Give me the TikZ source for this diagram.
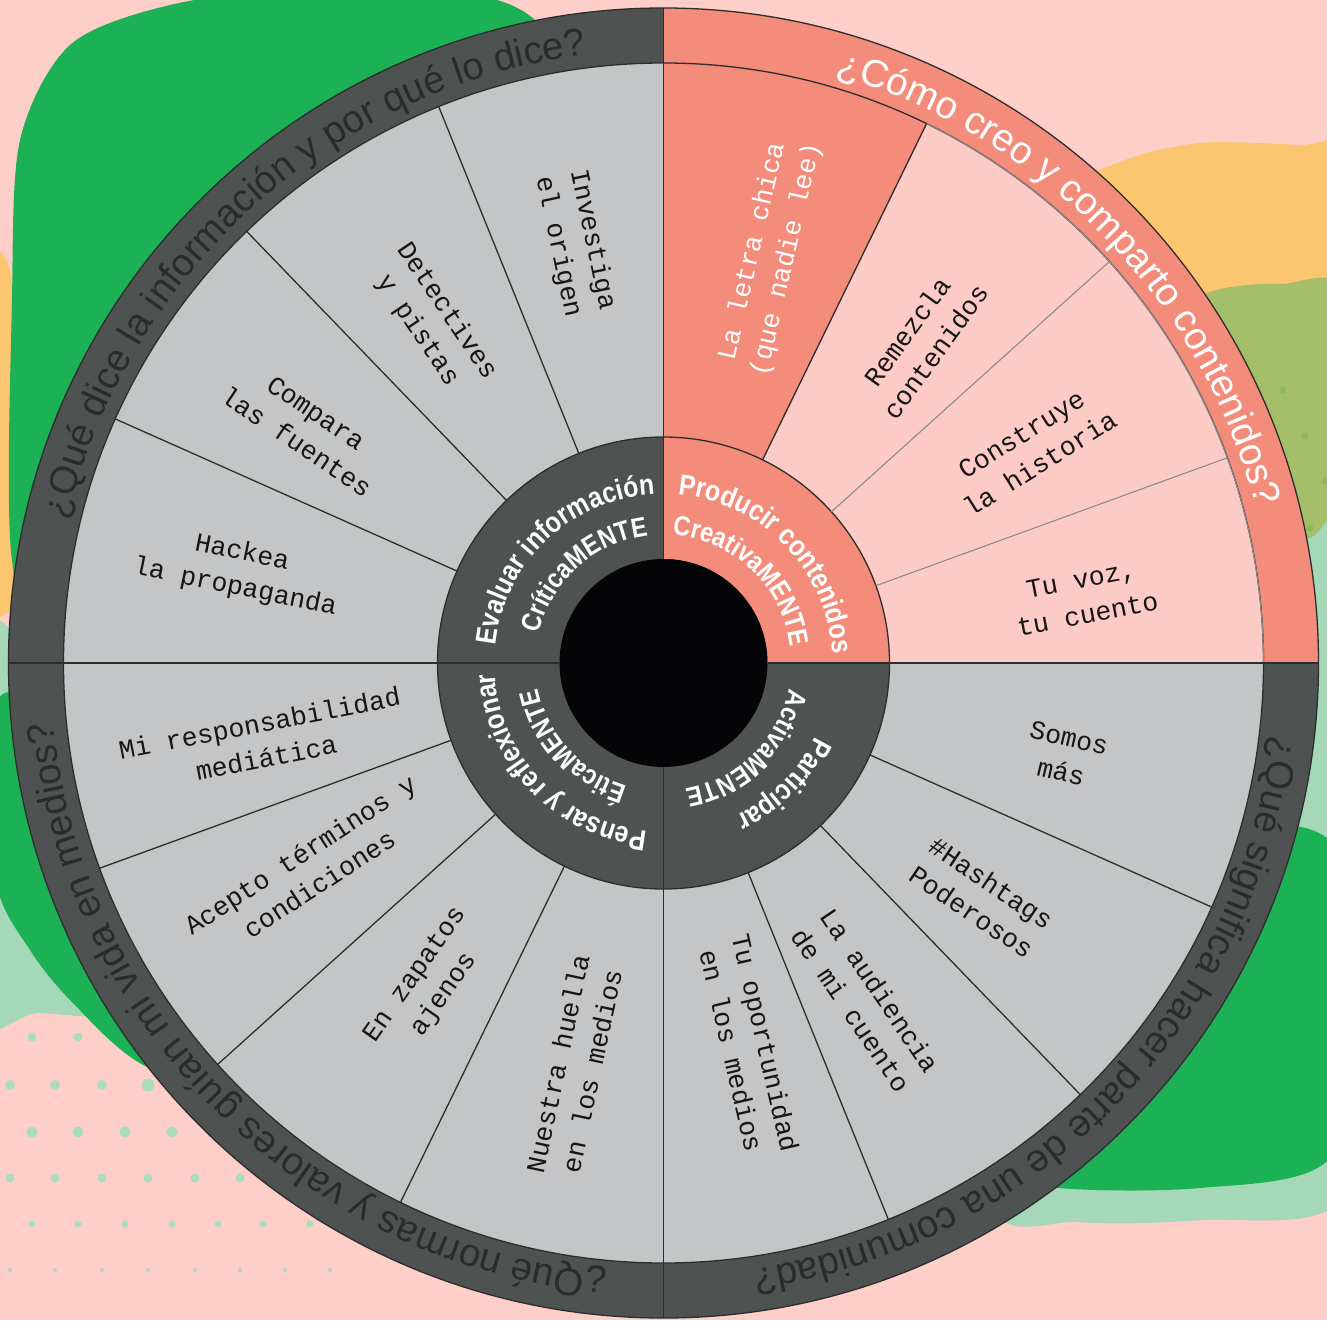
\documentclass[tikz,border=0pt]{standalone}
\usepackage{fontspec}
\setmainfont{Liberation Sans}
\newfontfamily\monof{Liberation Mono}
\newfontfamily\innerf{Liberation Sans}[FakeStretch=0.86]
\usetikzlibrary{decorations.text}
\definecolor{bgpink}{HTML}{FECEC8}
\definecolor{segray}{HTML}{C4C5C7}
\definecolor{darkring}{HTML}{4E5251}
\definecolor{salmon}{HTML}{F48C7B}
\definecolor{lightpink}{HTML}{FDCBC5}
\definecolor{coreblack}{HTML}{050508}
\definecolor{blobgreen}{HTML}{1DB156}
\definecolor{bloborange}{HTML}{FBC66F}
\definecolor{blobolive}{HTML}{A4BE6A}
\definecolor{bloblight}{HTML}{A5D8B6}
\definecolor{dotgreen}{HTML}{A9DEBD}
\definecolor{dotolive}{HTML}{8EB75E}
\definecolor{linedark}{HTML}{2C2E2E}
\definecolor{linegray}{HTML}{8C8C8C}
\definecolor{ringtext}{HTML}{2A2C2C}
\definecolor{labtext}{HTML}{151515}
\newcommand\labfont{\monof\fontsize{26.5}{35}\selectfont}
\newcommand\ringfmt{\fontsize{38.5}{40}\selectfont\color{ringtext}}
\newcommand\ringfmtw{\fontsize{38.5}{40}\selectfont\color{white}}
\newcommand\titlefmt{\innerf\bfseries\fontsize{29}{30}\selectfont\color{white}}
\newcommand\mentefmt{\innerf\bfseries\fontsize{27.5}{28}\selectfont\color{white}}
\newcommand\wsector[5]{\fill[#1] (#2:#4) arc[start angle=#2,end angle=#3,radius=#4] -- (#3:#5) arc[start angle=#3,end angle=#2,radius=#5] -- cycle;}
\newcommand\arctext[4]{\path[decorate,decoration={text along path,text align=center,text={|#1|#4}}] ({#2+60}:#3) arc[start angle={#2+60},end angle={#2-60},radius=#3];}
\tikzset{
  wline/.style={draw=linedark,line width=1.3pt},
  gline/.style={draw=linegray,line width=1.1pt},
  seglabel/.style={font=\labfont,text=labtext,align=center,inner sep=0pt}
}
\begin{document}
\begin{tikzpicture}[x=1pt,y=1pt]
\useasboundingbox (-663.5,-657) rectangle (663.5,663);
\fill[bgpink] (-663.5,-657) rectangle (663.5,663);
% ---------- background blobs (image coordinates) ----------
\begin{scope}[shift={(-663.5pt,663pt)},x=1pt,y=-1pt]
  \fill[bloborange] plot[smooth cycle] coordinates {(-80,250) (4,256) (20,400) (20,560) (8,612) (-80,620)};
  \fill[bloblight] plot[smooth cycle] coordinates {(-30,640) (25,640) (200,800) (230,990) (150,1018) (40,1013) (-30,1008)};
  \fill[blobgreen] plot[smooth cycle] coordinates {(12,300) (20,140) (70,45) (170,5) (320,-15) (460,-8) (545,30) (640,200) (600,500) (400,650) (60,640) (12,560)};
  \fill[blobgreen] plot[smooth cycle] coordinates {(25,690) (-4,720) (-4,880) (30,950) (72,1002) (145,1066) (280,1110) (380,900) (220,700)};
  \fill[bloborange] plot[smooth cycle] coordinates {(1040,210) (1120,162) (1200,143) (1300,145) (1360,150) (1360,330) (1250,300) (1100,330)};
  \fill[blobolive] plot[smooth cycle] coordinates {(1150,330) (1210,292) (1280,284) (1350,298) (1350,545) (1300,542) (1200,500)};
  \fill[bloblight] plot[smooth cycle] coordinates {(1240,570) (1310,538) (1350,540) (1350,1000) (1340,1200) (1200,1220) (1080,1222) (990,1200) (1000,900)};
  \fill[blobgreen] plot[smooth cycle] coordinates {(1180,860) (1290,826) (1345,862) (1355,1000) (1330,1158) (1200,1188) (1040,1186) (950,1150) (1000,950)};
  % dots
  \foreach \x in {32,78} \fill[dotgreen] (\x,1037) circle[radius=4.5];
  \foreach \x in {10,55,102} \fill[dotgreen] (\x,1085) circle[radius=5];
  \fill[dotgreen] (148,1085) circle[radius=6.5];
  \foreach \x in {32,78,125,172} \fill[dotgreen] (\x,1132) circle[radius=5.5];
  \foreach \x in {10,55,102,148,195,240} \fill[dotgreen] (\x,1178) circle[radius=4.5];
  \foreach \x in {32,78,125,172,218,263,310} \fill[dotgreen] (\x,1224) circle[radius=3.5];
  \foreach \x in {10,55,102,148,195,240,285,330} \fill[dotgreen] (\x,1270) circle[radius=2];
  \foreach \p in {(1283,390),(1305,436),(1325,481),(1310,528)} \fill[dotolive] \p circle[radius=3.5];
\end{scope}
% ---------- wheel ----------
\wsector{darkring}{90}{180}{600}{655}
\wsector{salmon}{0}{90}{600}{655}
\wsector{darkring}{180}{360}{600}{655}
\wsector{segray}{90}{360}{226}{600}
\wsector{lightpink}{0}{64}{226}{600}
\wsector{salmon}{64}{90}{226}{600}
\fill[darkring] (0,0) circle[radius=226];
\wsector{salmon}{0}{90}{104}{226}
\fill[coreblack] (0,0) circle[radius=104];
% lines
\draw[wline] (0,0) circle[radius=655];
\draw[wline] (0,0) circle[radius=600];
\draw[gline] (0:600) arc[start angle=0,end angle=64,radius=600];
\draw[wline] (0,0) circle[radius=226];
\foreach \a in {0,90,180,270} \draw[wline] (\a:104) -- (\a:655);
\foreach \a in {64,112,134,156,200,222,244,292,314,336} \draw[wline] (\a:226) -- (\a:600);
\foreach \a in {20,42} \draw[gline] (\a:226) -- (\a:600);
% ---------- segment labels ----------
\node[seglabel,rotate=-78] (l1) at (101.9:429) {Investiga\\el origen};
\node[seglabel,rotate=-56] (l2) at (124.1:413) {Detectives\\y pistas};
\node[seglabel,rotate=-34] (l3) at (146.6:428) {Compara\\las fuentes};
\node[seglabel,rotate=-11.5] (l4) at (167.7:435) {Hackea\\la propaganda};
\node[seglabel,rotate=77,text=white] (l5) at (75.4:421) {La letra chica\\(que nadie lee)};
\node[seglabel,rotate=54] (l6) at (51.3:412) {Remezcla\\contenidos};
\node[seglabel,rotate=32] (l7) at (30.2:425) {Construye\\la historia};
\node[seglabel,rotate=11] (l8) at (8.9:426) {Tu voz,\\tu cuento};
\node[seglabel,rotate=-13] (l9) at (-12.9:412) {Somos\\más};
\node[seglabel,rotate=-34] (l10) at (-36.4:395) {\#Hashtags\\Poderosos};
\node[seglabel,rotate=-56] (l11) at (-59.1:393) {La audiencia\\de mi cuento};
\node[seglabel,rotate=-77] (l12) at (-77.5:393) {Tu oportunidad\\en los medios};
\node[seglabel,rotate=11] (l13) at (190.9:408) {Mi responsabilidad\\mediática};
\node[seglabel,rotate=33] (l14) at (210.2:409.5) {Acepto términos y\\condiciones};
\node[seglabel,rotate=55] (l15) at (234.05:398) {En zapatos\\ajenos};
\node[seglabel,rotate=78] (l16) at (257.6:414) {Nuestra huella\\en los medios};
% ---------- ring questions ----------
\arctext{\ringfmt}{131.9}{613}{¿Qué dice la información y por qué lo dice?}
\arctext{\ringfmtw}{44.25}{613}{¿Cómo creo y comparto contenidos?}
\arctext{\ringfmt}{-44.2}{613}{¿Qué significa hacer parte de una comunidad?}
\arctext{\ringfmt}{225.2}{613}{¿Qué normas y valores guían mi vida en medios?}
% ---------- inner ring titles ----------
\arctext{\titlefmt}{133.5}{169}{Evaluar información}
\arctext{\mentefmt}{131.8}{128}{CríticaMENTE}
\arctext{\titlefmt}{44}{169}{Producir contenidos}
\arctext{\mentefmt}{46.6}{128}{CreativaMENTE}
\arctext{\titlefmt}{-45.3}{169}{Participar}
\arctext{\mentefmt}{-46}{128}{ActivaMENTE}
\arctext{\titlefmt}{224}{169}{Pensar y reflexionar}
\arctext{\mentefmt}{222.5}{128}{ÉticaMENTE}
\end{tikzpicture}
\end{document}
